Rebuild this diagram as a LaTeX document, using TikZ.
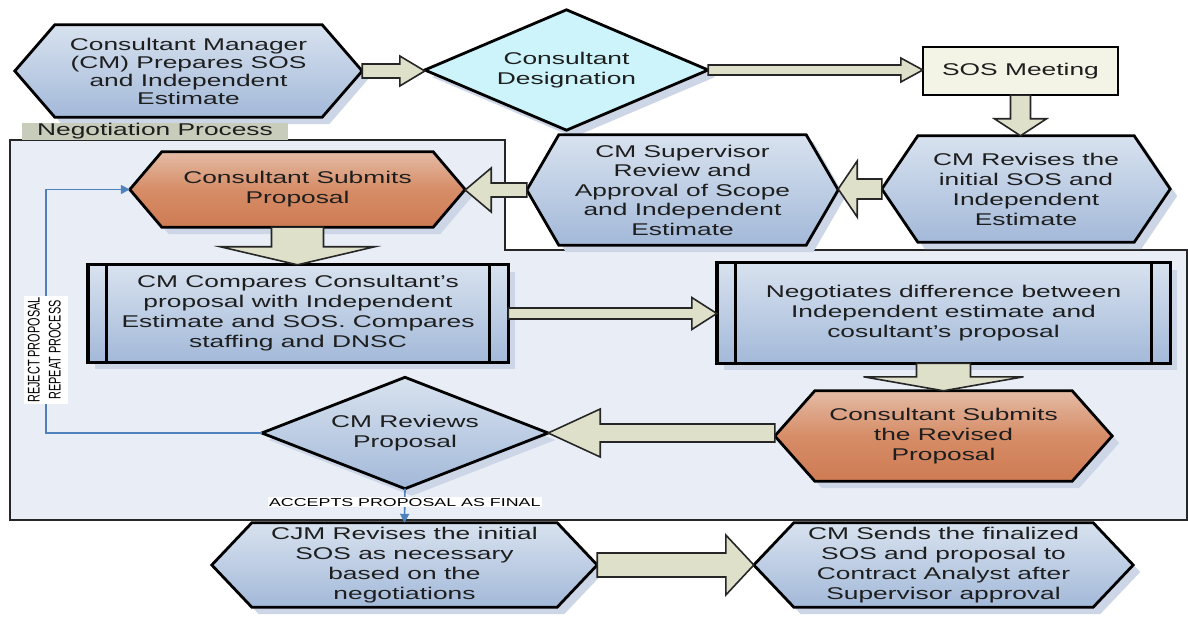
\documentclass[tikz,border=0pt]{standalone}
\usepackage{fontspec}
\usepackage{graphicx}
\setmainfont{Liberation Sans}[FakeStretch=1.55]
\newfontfamily\plainsans{Liberation Sans}
\usetikzlibrary{calc,arrows.meta}
\pgfdeclarelayer{regionl}
\pgfdeclarelayer{shadowl}
\pgfdeclarelayer{shapel}
\pgfsetlayers{regionl,shadowl,shapel,main}
\definecolor{blueTop}{HTML}{D8E2EF}
\definecolor{blueBot}{HTML}{A3B9D9}
\definecolor{orTop}{HTML}{E4BBA5}
\definecolor{orMid}{HTML}{D68D67}
\definecolor{orBot}{HTML}{CE7B53}
\definecolor{cyanF}{HTML}{CCF4FA}
\definecolor{creamF}{HTML}{F3F3E6}
\definecolor{arrowF}{HTML}{DEE0C9}
\definecolor{regionF}{HTML}{E9EEF6}
\definecolor{tabF}{HTML}{C8CCBB}
\definecolor{shadowC}{HTML}{CDD6E7}
\definecolor{lineBlue}{HTML}{4F81BD}
\definecolor{txtC}{HTML}{1E1E1E}
\tikzset{
  txt/.style={inner sep=0pt, align=center, text=txtC, font=\fontsize{17}{20}\selectfont},
  outl/.style={draw=black, line width=2.8pt, line join=miter},
  bluef/.style={outl, top color=blueTop, bottom color=blueBot},
  orangef/.style={outl, top color=orTop, bottom color=orBot, middle color=orMid},
  shadowf/.style={fill=shadowC, draw=none, transform canvas={shift={(7pt,-7pt)}}},
  barrow/.style={fill=arrowF, draw=black!85, line width=1.6pt, line join=miter},
  bline/.style={draw=lineBlue, line width=1.6pt, -{Triangle[length=9pt,width=9pt]}},
  region/.style={fill=regionF, draw=black!85, line width=1.6pt},
}
% hexagon around a node
\newcommand\drawhex[3]{%
  \begin{pgfonlayer}{shadowl}
  \path[shadowf] (#1.west) -- ([xshift=#2]#1.north west) -- ([xshift=-#2]#1.north east) -- (#1.east) -- ([xshift=-#2]#1.south east) -- ([xshift=#2]#1.south west) -- cycle;
  \end{pgfonlayer}
  \begin{pgfonlayer}{shapel}
  \path[#3] (#1.west) -- ([xshift=#2]#1.north west) -- ([xshift=-#2]#1.north east) -- (#1.east) -- ([xshift=-#2]#1.south east) -- ([xshift=#2]#1.south west) -- cycle;
  \end{pgfonlayer}}
% diamond around a node
\newcommand\drawdia[2]{%
  \begin{pgfonlayer}{shadowl}
  \path[shadowf] (#1.west) -- (#1.north) -- (#1.east) -- (#1.south) -- cycle;
  \end{pgfonlayer}
  \begin{pgfonlayer}{shapel}
  \path[#2] (#1.west) -- (#1.north) -- (#1.east) -- (#1.south) -- cycle;
  \end{pgfonlayer}}
% predefined-process box around a node
\newcommand\drawproc[1]{%
  \begin{pgfonlayer}{shadowl}
  \path[shadowf] (#1.north west) rectangle (#1.south east);
  \end{pgfonlayer}
  \begin{pgfonlayer}{shapel}
  \path[bluef, line width=3.4pt] (#1.north west) rectangle (#1.south east);
  \draw[line width=3pt] ([xshift=19pt]#1.north west) -- ([xshift=19pt]#1.south west);
  \draw[line width=3pt] ([xshift=-19pt]#1.north east) -- ([xshift=-19pt]#1.south east);
  \end{pgfonlayer}}
% horizontal block arrow: from, to, shaft half, head half, head length
\newcommand\harrow[5]{%
  \draw[barrow] let \p1=(#1), \p2=(#2), \n1={(\x2-\x1)/abs(\x2-\x1)} in
   (\x1,{\y1+#3}) -- ({\x2-(\n1)*(#5)},{\y1+#3}) -- ({\x2-(\n1)*(#5)},{\y1+#4}) -- (\x2,\y1)
   -- ({\x2-(\n1)*(#5)},{\y1-#4}) -- ({\x2-(\n1)*(#5)},{\y1-#3}) -- (\x1,{\y1-#3}) -- cycle;}
% vertical block arrow
\newcommand\varrow[5]{%
  \draw[barrow] let \p1=(#1), \p2=(#2), \n1={(\y2-\y1)/abs(\y2-\y1)} in
   ({\x1+#3},\y1) -- ({\x1+#3},{\y2-(\n1)*(#5)}) -- ({\x1+#4},{\y2-(\n1)*(#5)}) -- (\x1,\y2)
   -- ({\x1-#4},{\y2-(\n1)*(#5)}) -- ({\x1-#3},{\y2-(\n1)*(#5)}) -- ({\x1-#3},\y1) -- cycle;}
\begin{document}
\begin{tikzpicture}[x=1pt,y=-1pt]
\useasboundingbox (0,0) rectangle (1188,617);
\begin{pgfonlayer}{regionl}
\path[region] (10,140) -- (505,140) -- (505,250) -- (1187,250) -- (1187,520) -- (10,520) -- cycle;
\end{pgfonlayer}
\node[fill=tabF, inner sep=0pt, minimum width=266pt, minimum height=17pt, text=txtC,
      font=\fontsize{17}{18}\selectfont] (tab) at (155,131.5) {Negotiation Process};

% nodes
\node[txt, font=\fontsize{17}{18}\selectfont, minimum width=347pt, minimum height=92pt] (A) at (188.5,71)
  {Consultant Manager\\(CM) Prepares SOS\\and Independent\\Estimate};
\node[txt, minimum width=283pt, minimum height=120pt] (D) at (566.5,70) {Consultant\\Designation};
\node[txt, minimum width=195pt, minimum height=48pt] (S) at (1020.5,71) {SOS Meeting};
\node[txt, minimum width=288pt, minimum height=106pt] (CR) at (1026,189)
  {CM Revises the\\initial SOS and\\Independent\\Estimate};
\node[txt, font=\fontsize{17}{19.5}\selectfont, minimum width=311pt, minimum height=110pt] (SUP) at (682.5,190)
  {CM Supervisor\\Review and\\Approval of Scope\\and Independent\\Estimate};
\node[txt, minimum width=335pt, minimum height=75pt] (CSP) at (297.5,189.5) {Consultant Submits\\Proposal};
\node[txt, minimum width=420pt, minimum height=97pt] (CMP) at (298,313.5)
  {CM Compares Consultant’s\\proposal with Independent\\Estimate and SOS. Compares\\staffing and DNSC};
\node[txt, minimum width=453pt, minimum height=100pt] (NEG) at (943.5,313)
  {Negotiates difference between\\Independent estimate and\\cosultant’s proposal};
\node[txt, minimum width=337pt, minimum height=90pt] (REVD) at (943.5,436)
  {Consultant Submits\\the Revised\\Proposal};
\node[txt, minimum width=286pt, minimum height=111pt] (REV) at (405,433) {CM Reviews\\Proposal};
\node[txt, minimum width=385pt, minimum height=84pt] (CJM) at (404.5,565)
  {CJM Revises the initial\\SOS as necessary\\based on the\\negotiations};
\node[txt, minimum width=379pt, minimum height=84pt] (SENDS) at (943.5,565)
  {CM Sends the finalized\\SOS and proposal to\\Contract Analyst after\\Supervisor approval};

% shapes
\drawhex{A}{40pt}{bluef}
\drawdia{D}{outl, fill=cyanF}
\begin{pgfonlayer}{shapel}
\path[outl, fill=creamF, line width=2.4pt] (S.north west) rectangle (S.south east);
\end{pgfonlayer}
\drawhex{CR}{36pt}{bluef}
\drawhex{SUP}{32pt}{bluef}
\drawhex{CSP}{32pt}{orangef}
\drawproc{CMP}
\drawproc{NEG}
\drawhex{REVD}{40pt}{orangef}
\drawdia{REV}{bluef}
\drawhex{CJM}{40pt}{bluef}
\drawhex{SENDS}{40pt}{bluef}

% block arrows
\harrow{A.east}{D.west}{7pt}{15pt}{25pt}
\harrow{D.east}{S.west}{5pt}{12pt}{22pt}
\varrow{S.south}{CR.north}{10pt}{26pt}{17pt}
\harrow{CR.west}{SUP.east}{10pt}{28pt}{19pt}
\harrow{SUP.west}{CSP.east}{7pt}{22pt}{26pt}
\varrow{CSP.south}{CMP.north}{26pt}{77pt}{18pt}
\harrow{CMP.east}{NEG.west}{5.5pt}{16pt}{25pt}
\varrow{NEG.south}{REVD.north}{27pt}{80pt}{14pt}
\harrow{REVD.west |- REV.east}{REV.east}{9pt}{24pt}{52pt}
\harrow{CJM.east}{SENDS.west}{12pt}{30pt}{28pt}

% blue decision lines
\coordinate (lp) at (46,350);
\draw[bline] (REV.west) -| (lp) |- (CSP.west);
\node[fill=white, inner sep=1.5pt] (rejlbl) at (lp)
  {\scalebox{1.55}[1]{\rotatebox{90}{\plainsans\fontsize{10.9}{13.5}\selectfont
   \begin{tabular}{@{}c@{}}REJECT PROPOSAL\\REPEAT PROCESS\end{tabular}}}};
\draw[bline] (REV.south) -- node[pos=0.4, fill=white, inner sep=1pt, text=black,
  font=\fontsize{11.5}{13}\selectfont] (acclbl) {ACCEPTS PROPOSAL AS FINAL} (CJM.north);
\end{tikzpicture}
\end{document}
